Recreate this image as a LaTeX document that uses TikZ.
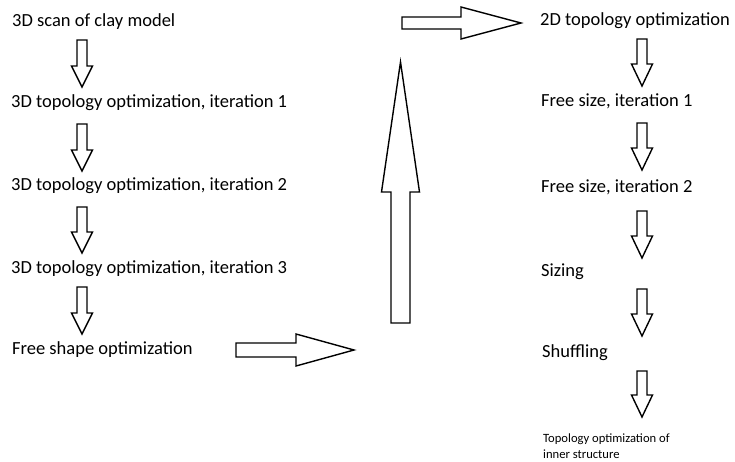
\documentclass[tikz,border=0pt]{standalone}
\usepackage{fontspec}
\setmainfont{Carlito}
\usetikzlibrary{calc}
\tikzset{
  lbl/.style={anchor=base west,inner sep=0pt,font=\fontsize{18.5}{22}\selectfont},
  smalllbl/.style={anchor=base west,inner sep=0pt,align=left,font=\fontsize{12.6}{16}\selectfont},
  blockarrow/.style={draw=black,line width=1.4pt,line join=miter,fill=white}
}
% #1 start, #2 tip, #3 shaft half width, #4 head half width, #5 head length
\newcommand\barrow[5]{%
  \coordinate (tmpS) at ($(#2)!#5!(#1)$);
  \draw[blockarrow] ($(#1)!#3!90:(#2)$) -- ($(tmpS)!#3!-90:(#1)$) -- ($(tmpS)!#4!-90:(#1)$) -- (#2)
    -- ($(tmpS)!#4!90:(#1)$) -- ($(tmpS)!#3!90:(#1)$) -- ($(#1)!#3!-90:(#2)$) -- cycle;}
\begin{document}
\begin{tikzpicture}[x=1pt,y=-1pt]
\fill[white] (0,0) rectangle (735,462);
\useasboundingbox (0,0) rectangle (735,462);
% left column
\node[lbl] (l1) at (12,27) {3D scan of clay model};
\node[lbl] (l2) at (11,108) {3D topology optimization, iteration 1};
\node[lbl] (l3) at (11,191) {3D topology optimization, iteration 2};
\node[lbl] (l4) at (11,273) {3D topology optimization, iteration 3};
\node[lbl] (l5) at (12,354) {Free shape optimization};
% right column
\node[lbl] (r1) at (540,26) {2D topology optimization};
\node[lbl] (r2) at (541,107) {Free size, iteration 1};
\node[lbl] (r3) at (541,193) {Free size, iteration 2};
\node[lbl] (r4) at (541,276) {Sizing};
\node[lbl] (r5) at (542,357) {Shuffling};
\node[smalllbl] (r6) at (543,458) {Topology optimization of\\inner structure};
% arrow end points
\coordinate (la1s) at (82,40);  \coordinate (la1e) at (82,87);
\coordinate (la2s) at (82,124); \coordinate (la2e) at (82,171);
\coordinate (la3s) at (82,207); \coordinate (la3e) at (82,253);
\coordinate (la4s) at (82,287); \coordinate (la4e) at (82,334);
\coordinate (ra1s) at (642,39);  \coordinate (ra1e) at (642,86);
\coordinate (ra2s) at (642,123); \coordinate (ra2e) at (642,170);
\coordinate (ra3s) at (642,211); \coordinate (ra3e) at (642,258);
\coordinate (ra4s) at (642,289); \coordinate (ra4e) at (642,336);
\coordinate (ra5s) at (642,371); \coordinate (ra5e) at (642,417);
\coordinate (hbs) at (236,350); \coordinate (hbe) at (354,350);
\coordinate (ups) at (400.5,323); \coordinate (upe) at (400.5,62);
\coordinate (hts) at (402,23); \coordinate (hte) at (521,23);
% arrows
\barrow{la1s}{la1e}{5pt}{10.5pt}{21pt}
\barrow{la2s}{la2e}{5pt}{10.5pt}{21pt}
\barrow{la3s}{la3e}{5pt}{10.5pt}{21pt}
\barrow{la4s}{la4e}{5pt}{10.5pt}{21pt}
\barrow{ra1s}{ra1e}{5pt}{10.5pt}{22pt}
\barrow{ra2s}{ra2e}{5pt}{10.5pt}{22pt}
\barrow{ra3s}{ra3e}{5pt}{10.5pt}{22pt}
\barrow{ra4s}{ra4e}{5pt}{10.5pt}{22pt}
\barrow{ra5s}{ra5e}{5pt}{10.5pt}{22pt}
\barrow{hbs}{hbe}{7pt}{16pt}{58pt}
\barrow{ups}{upe}{9.5pt}{19pt}{130pt}
\barrow{hts}{hte}{6pt}{16pt}{60pt}
\end{tikzpicture}
\end{document}
